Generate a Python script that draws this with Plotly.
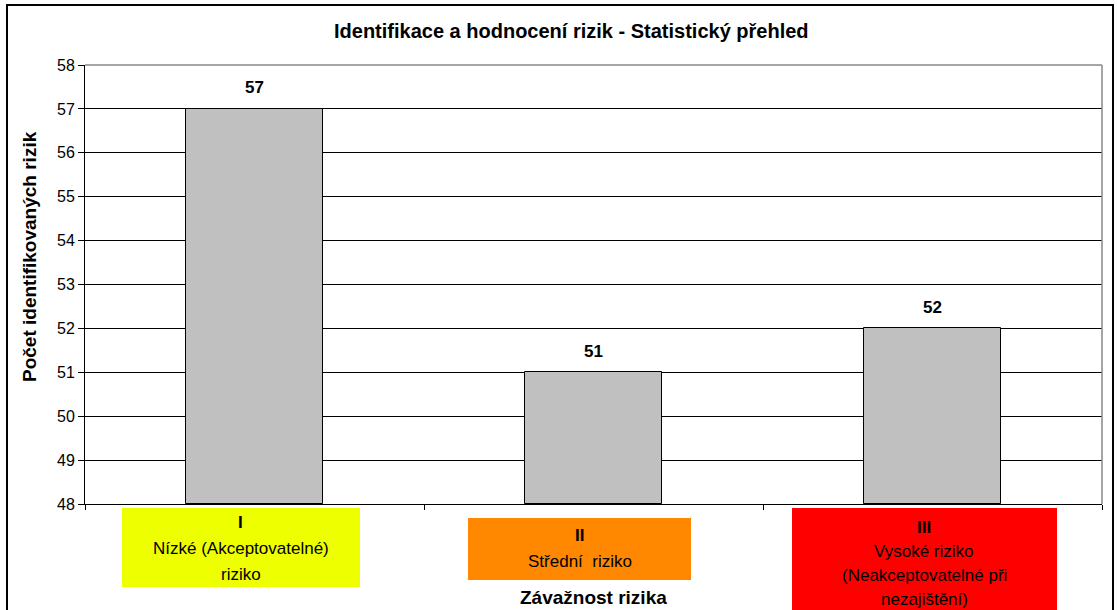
import plotly.graph_objects as go

categories = ["I", "II", "III"]
values = [57, 51, 52]
cat_lines = [
    ["<b>I</b>", "Nízké (Akceptovatelné)", "riziko"],
    ["<b>II</b>", "Střední  riziko"],
    ["<b>III</b>", "Vysoké riziko", "(Neakceptovatelné při", "nezajištění)"],
]
cat_colors = ["#EEFF00", "#FF8800", "#FF0000"]
y_ticks = list(range(48, 59))

W, H = 1117, 610
L, R, T, B = 85, 15, 65, 106
PH = H - T - B
PW = W - L - R
FONT = "Liberation Sans, Arial, sans-serif"

def py(pix):
    return (H - B - pix) / PH

def px(pix):
    return (pix - L) / PW

x = list(range(len(categories)))

fig = go.Figure()
fig.add_trace(go.Bar(
    x=x, y=[v - 48 for v in values], base=48,
    width=0.404,
    marker=dict(color="#C0C0C0", line=dict(color="#000000", width=1)),
    hoverinfo="skip",
))

ann = []
# data labels
for xi, v in zip(x, values):
    ann.append(dict(x=xi, y=v, xref="x", yref="y", text=f"<b>{v}</b>",
                    showarrow=False, yshift=21, font=dict(family=FONT, size=17, color="#000")))

# category boxes
box_specs = [  # (xshift, width, top_pix, bottom_pix, line positions)
    (-14, 238, 508, 587, [522, 548, 574]),
    (-14, 223, 518, 580, [535, 561]),
    (-8.5, 265, 508, 625, [527, 551, 575, 599]),
]
for xi, lines, color, (xs, bw, t, b, ys) in zip(x, cat_lines, cat_colors, box_specs):
    ann.append(dict(x=xi, y=py((t + b) / 2), xref="x", yref="paper", text=" ",
                    showarrow=False, xshift=xs, width=bw, height=b - t,
                    bgcolor=color, borderpad=0, borderwidth=0,
                    xanchor="center", yanchor="middle"))
    for ln, yy in zip(lines, ys):
        ann.append(dict(x=xi, y=py(yy), xref="x", yref="paper", text=ln,
                        showarrow=False, xshift=xs, xanchor="center", yanchor="middle",
                        font=dict(family=FONT, size=17, color="#000")))

ann.append(dict(x=px(593), y=py(597), xref="paper", yref="paper",
                text="<b>Závažnost rizika</b>", showarrow=False,
                xanchor="center", yanchor="middle", font=dict(family=FONT, size=19, color="#000")))
ann.append(dict(x=px(571), y=py(31), xref="paper", yref="paper",
                text="<b>Identifikace a hodnocení rizik - Statistický přehled</b>", showarrow=False,
                xanchor="center", yanchor="middle", font=dict(family=FONT, size=20, color="#000")))
ann.append(dict(x=px(29), y=py(257), xref="paper", yref="paper",
                text="<b>Počet identifikovaných rizik</b>", showarrow=False, textangle=-90,
                xanchor="center", yanchor="middle", font=dict(family=FONT, size=19, color="#000")))

shapes = [
    # outer chart border
    dict(type="rect", xref="paper", yref="paper", x0=px(7), x1=px(1113), y0=py(625), y1=py(5),
         line=dict(color="#000000", width=2), layer="above"),
    # gray top and right plot border
    dict(type="line", xref="paper", yref="paper", x0=0, x1=1, y0=1, y1=1,
         line=dict(color="#888888", width=1.5), layer="above"),
    dict(type="line", xref="paper", yref="paper", x0=1, x1=1, y0=0, y1=1,
         line=dict(color="#888888", width=1.5), layer="above"),
]

fig.update_layout(
    width=W, height=H,
    margin=dict(l=L, r=R, t=T, b=B),
    paper_bgcolor="white", plot_bgcolor="white",
    showlegend=False,
    annotations=ann, shapes=shapes,
    font=dict(family=FONT, color="#000"),
    bargap=0,
)
fig.update_xaxes(
    range=[-0.5, 2.5], tickvals=[-0.5, 0.5, 1.5, 2.5], ticktext=["", "", "", ""],
    ticks="outside", ticklen=5, tickcolor="#000", showgrid=False, zeroline=False,
    showline=True, linecolor="#000", linewidth=1,
)
fig.update_yaxes(
    range=[48, 58], tickvals=y_ticks, ticks="outside", ticklen=6, tickcolor="#000",
    showgrid=True, gridcolor="#000", gridwidth=1, zeroline=False,
    showline=True, linecolor="#000", linewidth=1,
    tickfont=dict(family=FONT, size=16, color="#000"),
)

fig.write_html("out.html", config={"displayModeBar": False})

with open("out.html", "r", encoding="utf-8") as f:
    html = f.read()
html = html.replace("<head>", "<head><style>html,body{margin:0;padding:0;overflow:hidden;}</style>", 1)
with open("out.html", "w", encoding="utf-8") as f:
    f.write(html)
